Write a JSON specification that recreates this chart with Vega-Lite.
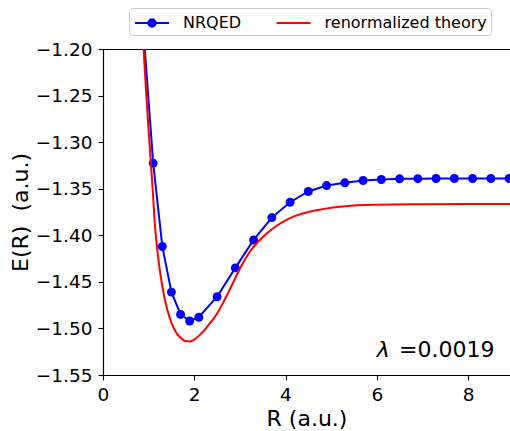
{
  "$schema": "https://vega.github.io/schema/vega-lite/v6.json",
  "width": 407,
  "height": 326,
  "autosize": {"type": "none"},
  "padding": {"left": 103, "top": 49, "right": 0, "bottom": 56},
  "background": "white",
  "config": {
    "font": "DejaVu Sans",
    "view": {"stroke": null},
    "axis": {"grid": false, "labelColor": "black", "tickColor": "black", "domainColor": "black", "titleColor": "black", "titleFontWeight": "normal", "labelFlush": false, "labelOverlap": false}
  },
  "datasets": {
    "nrqed": [
      {"R": 0.9, "E": -1.19, "series": "NRQED"},
      {"R": 1.1, "E": -1.3225, "series": "NRQED"},
      {"R": 1.3, "E": -1.412, "series": "NRQED"},
      {"R": 1.5, "E": -1.461, "series": "NRQED"},
      {"R": 1.7, "E": -1.485, "series": "NRQED"},
      {"R": 1.9, "E": -1.492, "series": "NRQED"},
      {"R": 2.1, "E": -1.488, "series": "NRQED"},
      {"R": 2.5, "E": -1.466, "series": "NRQED"},
      {"R": 2.9, "E": -1.435, "series": "NRQED"},
      {"R": 3.3, "E": -1.405, "series": "NRQED"},
      {"R": 3.7, "E": -1.381, "series": "NRQED"},
      {"R": 4.1, "E": -1.3645, "series": "NRQED"},
      {"R": 4.5, "E": -1.353, "series": "NRQED"},
      {"R": 4.9, "E": -1.3466, "series": "NRQED"},
      {"R": 5.3, "E": -1.3437, "series": "NRQED"},
      {"R": 5.7, "E": -1.3412, "series": "NRQED"},
      {"R": 6.1, "E": -1.3401, "series": "NRQED"},
      {"R": 6.5, "E": -1.3394, "series": "NRQED"},
      {"R": 6.9, "E": -1.3392, "series": "NRQED"},
      {"R": 7.3, "E": -1.339, "series": "NRQED"},
      {"R": 7.7, "E": -1.339, "series": "NRQED"},
      {"R": 8.1, "E": -1.339, "series": "NRQED"},
      {"R": 8.5, "E": -1.339, "series": "NRQED"},
      {"R": 8.9, "E": -1.339, "series": "NRQED"}
    ],
    "theory": [
      {"R": 0.85, "E": -1.165, "series": "renormalized theory"},
      {"R": 0.89, "E": -1.2, "series": "renormalized theory"},
      {"R": 0.95, "E": -1.25, "series": "renormalized theory"},
      {"R": 1.0, "E": -1.288, "series": "renormalized theory"},
      {"R": 1.05, "E": -1.3225, "series": "renormalized theory"},
      {"R": 1.09, "E": -1.352, "series": "renormalized theory"},
      {"R": 1.13, "E": -1.384, "series": "renormalized theory"},
      {"R": 1.2, "E": -1.42, "series": "renormalized theory"},
      {"R": 1.3, "E": -1.455, "series": "renormalized theory"},
      {"R": 1.4, "E": -1.478, "series": "renormalized theory"},
      {"R": 1.5, "E": -1.494, "series": "renormalized theory"},
      {"R": 1.6, "E": -1.504, "series": "renormalized theory"},
      {"R": 1.7, "E": -1.51, "series": "renormalized theory"},
      {"R": 1.8, "E": -1.5135, "series": "renormalized theory"},
      {"R": 1.9, "E": -1.514, "series": "renormalized theory"},
      {"R": 2.0, "E": -1.512, "series": "renormalized theory"},
      {"R": 2.1, "E": -1.508, "series": "renormalized theory"},
      {"R": 2.2, "E": -1.503, "series": "renormalized theory"},
      {"R": 2.3, "E": -1.497, "series": "renormalized theory"},
      {"R": 2.4, "E": -1.491, "series": "renormalized theory"},
      {"R": 2.5, "E": -1.484, "series": "renormalized theory"},
      {"R": 2.6, "E": -1.4755, "series": "renormalized theory"},
      {"R": 2.7, "E": -1.466, "series": "renormalized theory"},
      {"R": 2.8, "E": -1.456, "series": "renormalized theory"},
      {"R": 2.9, "E": -1.446, "series": "renormalized theory"},
      {"R": 3.0, "E": -1.436, "series": "renormalized theory"},
      {"R": 3.1, "E": -1.427, "series": "renormalized theory"},
      {"R": 3.2, "E": -1.419, "series": "renormalized theory"},
      {"R": 3.3, "E": -1.4125, "series": "renormalized theory"},
      {"R": 3.4, "E": -1.407, "series": "renormalized theory"},
      {"R": 3.6, "E": -1.3975, "series": "renormalized theory"},
      {"R": 3.8, "E": -1.39, "series": "renormalized theory"},
      {"R": 4.0, "E": -1.384, "series": "renormalized theory"},
      {"R": 4.2, "E": -1.3795, "series": "renormalized theory"},
      {"R": 4.5, "E": -1.375, "series": "renormalized theory"},
      {"R": 4.75, "E": -1.3725, "series": "renormalized theory"},
      {"R": 5.0, "E": -1.3705, "series": "renormalized theory"},
      {"R": 5.5, "E": -1.368, "series": "renormalized theory"},
      {"R": 6.0, "E": -1.3672, "series": "renormalized theory"},
      {"R": 7.0, "E": -1.3667, "series": "renormalized theory"},
      {"R": 8.0, "E": -1.3665, "series": "renormalized theory"},
      {"R": 9.0, "E": -1.3665, "series": "renormalized theory"}
    ]
  },
  "layer": [
    {
      "data": {"name": "nrqed"},
      "mark": {"type": "line", "clip": true, "strokeWidth": 2},
      "encoding": {
        "x": {"field": "R", "type": "quantitative", "scale": {"domain": [0, 8.92], "nice": false, "zero": false},
          "axis": {"orient": "bottom", "values": [0, 2, 4, 6, 8], "title": "R (a.u.)", "titleFontSize": 22, "titlePadding": 5, "labelFontSize": 18.5, "labelPadding": 5, "tickSize": 5, "tickWidth": 1.1, "domainWidth": 1.2}},
        "y": {"field": "E", "type": "quantitative", "scale": {"domain": [-1.55, -1.2], "nice": false, "zero": false},
          "axis": {"values": [-1.55, -1.5, -1.45, -1.4, -1.35, -1.3, -1.25, -1.2], "format": ".2f", "title": "E(R)\u00a0\u00a0(a.u.)", "titleFontSize": 22, "titlePadding": 3, "labelFontSize": 18.5, "labelPadding": 6, "tickSize": 5, "tickWidth": 1.1, "domainWidth": 1.2}},
        "color": {"field": "series", "type": "nominal",
          "scale": {"domain": ["NRQED", "renormalized theory"], "range": ["#0000ff", "#ff0000"]},
          "legend": {"title": null, "orient": "none", "legendX": 26, "legendY": -41, "direction": "horizontal", "columns": 2, "padding": 4, "symbolSize": 400, "symbolStrokeWidth": 2, "labelFontSize": 16, "labelOffset": 28, "labelLimit": 300, "columnPadding": 30.6, "strokeColor": "#cccccc", "fillColor": "white", "cornerRadius": 3, "labelColor": "black",
            "encode": {"symbols": {"update": {
              "shape": {"signal": "datum.value === 'NRQED' ? 'M-0.9,0L2.5,0M0.43,0A0.37,0.37,0,1,0,1.17,0A0.37,0.37,0,1,0,0.43,0Z' : 'M-0.9,0L2.5,0'"},
              "fill": {"signal": "datum.value === 'NRQED' ? '#0000ff' : 'transparent'"}
            }}}}
        }
      }
    },
    {
      "data": {"name": "nrqed"},
      "mark": {"type": "circle", "clip": true, "size": 80, "opacity": 1},
      "encoding": {
        "x": {"field": "R", "type": "quantitative", "axis": null},
        "y": {"field": "E", "type": "quantitative"},
        "color": {"field": "series", "type": "nominal"}
      }
    },
    {
      "data": {"name": "theory"},
      "mark": {"type": "line", "clip": true, "strokeWidth": 2, "interpolate": "monotone"},
      "encoding": {
        "x": {"field": "R", "type": "quantitative", "axis": {"orient": "top", "labels": false, "ticks": false, "title": null, "domainWidth": 1.2}},
        "y": {"field": "E", "type": "quantitative"},
        "color": {"field": "series", "type": "nominal"}
      }
    },
    {
      "data": {"values": [{"t": "λ"}]},
      "mark": {"type": "text", "align": "left", "baseline": "alphabetic", "fontSize": 22, "fontStyle": "italic", "color": "black"},
      "encoding": {
        "x": {"datum": 6.0, "type": "quantitative", "axis": null},
        "y": {"datum": -1.5312, "type": "quantitative"},
        "text": {"field": "t"}
      }
    },
    {
      "data": {"values": [{"t": "=0.0019"}]},
      "mark": {"type": "text", "align": "right", "baseline": "alphabetic", "fontSize": 22, "color": "black"},
      "encoding": {
        "x": {"datum": 8.578, "type": "quantitative", "axis": null},
        "y": {"datum": -1.5312, "type": "quantitative"},
        "text": {"field": "t"}
      }
    }
  ],
  "resolve": {"axis": {"x": "independent"}}
}
